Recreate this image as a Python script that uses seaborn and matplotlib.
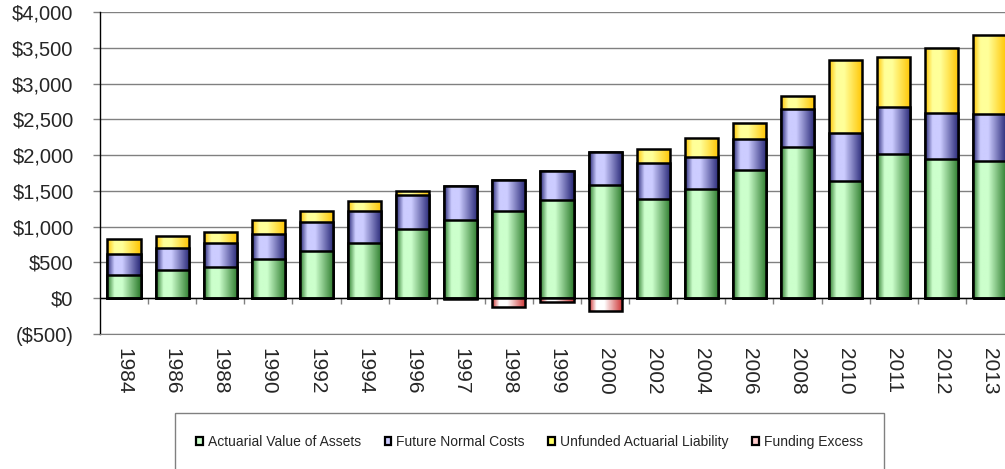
"""
Barras apiladas con degradado: activos actuariales, costes normales futuros,
pasivo no financiado y exceso de financiacion (millones de $).
"""

import matplotlib.pyplot as plt
import numpy as np
import seaborn as sns
from matplotlib.colors import LinearSegmentedColormap
from matplotlib.patches import Patch, Rectangle
from matplotlib.ticker import FuncFormatter


ANIOS = ['1984', '1986', '1988', '1990', '1992', '1994', '1996', '1997', '1998', '1999',
         '2000', '2002', '2004', '2006', '2008', '2010', '2011', '2012', '2013']
ACTIVOS = [322, 392, 443, 555, 662, 774, 970, 1091, 1221, 1371,
           1576, 1380, 1520, 1786, 2117, 1636, 2009, 1949, 1916]
COSTES_NORMALES = [293, 307, 326, 349, 401, 438, 475, 480, 434, 405,
                   471, 508, 457, 433, 531, 676, 667, 634, 657]
PASIVO_NO_FINANCIADO = [215, 168, 154, 187, 158, 149, 47, 0, 0, 0,
                        0, 201, 256, 229, 177, 1017, 699, 909, 1110]
EXCESO = [0, 0, 0, 0, 0, 0, 0, -8, -120, -55,
          -182, 0, 0, 0, 0, 0, 0, 0, 0]

SERIES = ['Actuarial Value of Assets', 'Future Normal Costs',
          'Unfunded Actuarial Liability', 'Funding Excess']
# (oscuro, claro, relleno leyenda)
COLORES = {
    'verde':    ('#2c7a2c', '#ccffcc', '#ccffcc'),
    'azul':     ('#262675', '#ccccff', '#ccccff'),
    'amarillo': ('#ffc400', '#ffff99', '#ffff66'),
    'rojo':     ('#cc3030', '#ffffff', '#ffcccc'),
}


def pinta_gradiente(ax, patches, oscuro, claro, z):
    cmap = LinearSegmentedColormap.from_list(
        'grad', [(0, oscuro), (0.22, claro), (0.45, claro), (1, oscuro)])
    grad = np.linspace(0, 1, 128).reshape(1, -1)
    for p in patches:
        x0, y0, w, h = p.get_x(), p.get_y(), p.get_width(), p.get_height()
        p.set_zorder(z + 0.1)
        if h == 0:
            continue
        im = ax.imshow(grad, extent=[x0, x0 + w, min(y0, y0 + h), max(y0, y0 + h)],
                       aspect='auto', cmap=cmap, zorder=z, interpolation='bilinear')
        im.set_clip_path(p)
        p.set_facecolor('none')


def capa(ax, valores, color, z):
    n = len(ax.patches)
    sns.barplot(x=ANIOS, y=valores, order=ANIOS, color=color[1], saturation=1,
                width=0.69, edgecolor='black', linewidth=1.8, ax=ax)
    pinta_gradiente(ax, ax.patches[n:], color[0], color[1], z)


def formato_dolar(v, _):
    if v < 0:
        return f'(${-v:,.0f})'
    return f'${v:,.0f}'


def main():
    sns.set_style('white')
    plt.rcParams['font.family'] = ['Liberation Sans', 'DejaVu Sans']

    activos = np.array(ACTIVOS)
    hasta_costes = activos + np.array(COSTES_NORMALES)
    total = hasta_costes + np.array(PASIVO_NO_FINANCIADO)

    fig = plt.figure(figsize=(10.05, 4.69), dpi=100)
    ax = fig.add_axes([100 / 1005, 1 - 334 / 469, 914 / 1005, 322 / 469])

    # barras superpuestas de mayor a menor para simular el apilado
    capa(ax, total, COLORES['amarillo'], 2)
    capa(ax, hasta_costes, COLORES['azul'], 3)
    capa(ax, activos, COLORES['verde'], 4)
    capa(ax, EXCESO, COLORES['rojo'], 5)

    ax.axhline(0, color='black', lw=1, zorder=1.5)
    ax.vlines(np.arange(0.5, len(ANIOS) - 0.5, 1), -75, 0, color='#808080', lw=1, zorder=1.4)

    ax.set_xlim(-0.5, len(ANIOS) - 0.5)
    ax.set_ylim(-500, 4000)
    ax.set_yticks(np.arange(-500, 4001, 500))
    ax.yaxis.set_major_formatter(FuncFormatter(formato_dolar))
    ax.set_axisbelow(True)
    ax.yaxis.grid(True, color='#808080', lw=1)
    ax.set_xlabel('')
    ax.set_ylabel('')

    ax.tick_params(axis='y', left=True, length=5, width=1, color='#808080',
                   pad=14, labelsize=14.5)
    ax.tick_params(axis='x', bottom=False, length=0, pad=10, labelsize=15,
                   labelrotation=270)
    for lbl in ax.get_xticklabels():
        lbl.set_va('top')
        lbl.set_ha('center')

    for lado in ('top', 'right'):
        ax.spines[lado].set_visible(False)
    ax.spines['left'].set_color('black')
    ax.spines['left'].set_linewidth(1)
    ax.spines['bottom'].set_color('#808080')

    handles = [Patch(facecolor=COLORES[c][2], edgecolor='black', linewidth=1.6)
               for c in ('verde', 'azul', 'amarillo', 'rojo')]
    fig.legend(handles, SERIES, loc='center left', bbox_to_anchor=(196 / 1005, 1 - 442 / 469),
               ncol=4, frameon=False, fontsize=10, handlelength=0.5, handleheight=0.5,
               handletextpad=0.35, columnspacing=1.7, borderpad=0, borderaxespad=0)
    fig.add_artist(Rectangle((175 / 1005, -0.1), 709 / 1005, 0.1 + 1 - 413 / 469,
                             transform=fig.transFigure, fill=False,
                             edgecolor='#808080', lw=1))

    fig.savefig('out.png', dpi=100)
    plt.close(fig)


if __name__ == '__main__':
    main()
